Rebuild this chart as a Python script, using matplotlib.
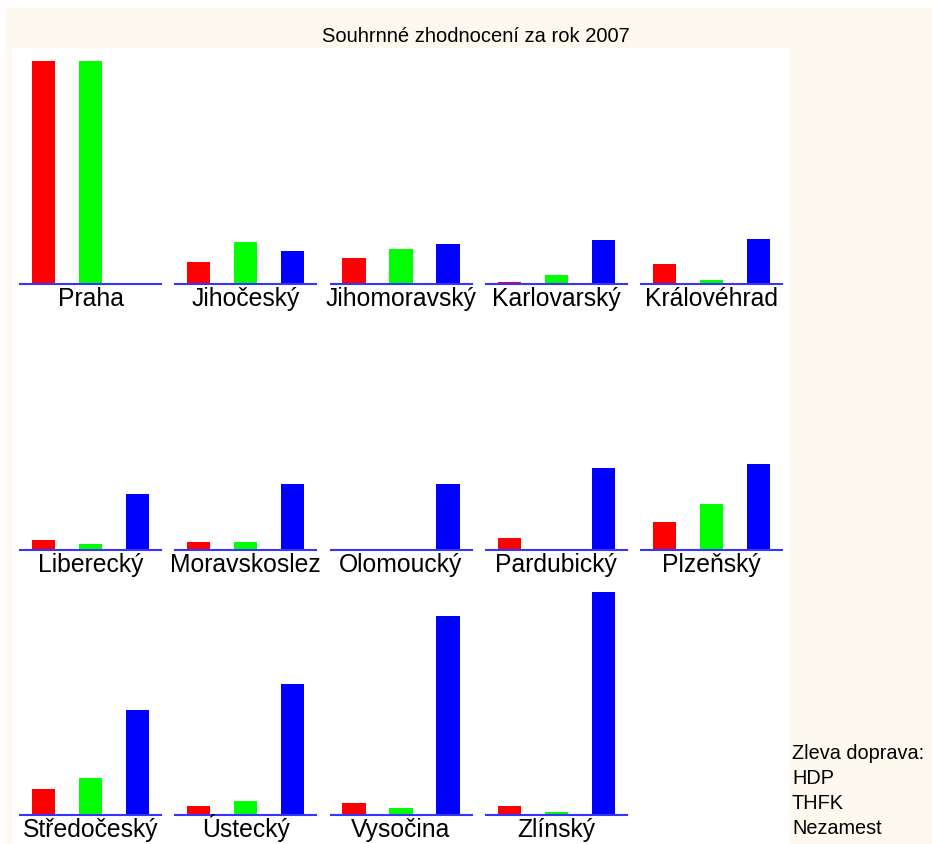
import matplotlib
matplotlib.use("Agg")
import matplotlib.pyplot as plt
from matplotlib.patches import Rectangle

plt.rcParams["font.family"] = ["Liberation Sans", "DejaVu Sans"]

W, H = 932, 844

# Regions, left to right, top to bottom
REGIONS = [
    "Praha", "Jihočeský", "Jihomoravský", "Karlovarský", "Královéhrad",
    "Liberecký", "Moravskoslez", "Olomoucký", "Pardubický", "Plzeňský",
    "Středočeský", "Ústecký", "Vysočina", "Zlínský",
]
# relative scores (max = 100)
HDP = [100, 9.9, 11.7, 0.9, 9.0, 4.5, 3.6, 0, 5.4, 12.6, 11.7, 4.0, 5.4, 4.0]
THFK = [100, 18.8, 15.7, 4.0, 1.8, 2.7, 3.6, 0.5, 0, 20.6, 16.6, 6.3, 3.1, 1.2]
NEZAMEST = [0, 14.8, 17.9, 19.7, 20.2, 25.1, 29.6, 29.6, 36.8, 38.6, 47.1, 58.7, 89.2, 100]

SERIES_COLORS = ["#ff0000", "#00ff00", "#0000ff"]
LEGEND_LINES = ["Zleva doprava:", "HDP", "THFK", "Nezamest"]
TITLE = "Souhrnné zhodnocení za rok 2007"

N_COLS = 5
PANEL_X0, PANEL_DX, PANEL_W = 20, 155.25, 141
ROW_BASELINES = [284, 550, 815]
PANEL_H = 223


def fx(x):
    return x / W


def fy(y):
    return 1 - y / H


fig = plt.figure(figsize=(W / 100, H / 100), dpi=100, facecolor="white")

# cream frame and white plot area (behind the panels)
fig.patches.append(Rectangle((fx(6), 0), fx(W - 6), fy(8), transform=fig.transFigure,
                             facecolor="#fdf9ee", edgecolor="none", zorder=-10))
fig.patches.append(Rectangle((fx(12), 0), fx(790 - 12), fy(48), transform=fig.transFigure,
                             facecolor="white", edgecolor="none", zorder=-9))

for i, name in enumerate(REGIONS):
    row, col = divmod(i, N_COLS)
    left = PANEL_X0 + PANEL_DX * col
    base = ROW_BASELINES[row]
    ax = fig.add_axes([fx(left), fy(base), fx(PANEL_W), PANEL_H / H])
    ax.set_xlim(0, 3)
    ax.set_ylim(0, 100)
    ax.axis("off")
    vals = [HDP[i], THFK[i], NEZAMEST[i]]
    ax.bar([0.5, 1.5, 2.5], vals, width=0.49, color=SERIES_COLORS, zorder=2)
    ax.axhline(0, color="#3535ff", lw=1.5, zorder=3, clip_on=False)
    fig.text(fx(left + PANEL_W / 2), fy(base + 22), name, ha="center", va="baseline",
             fontsize=17.8, color="black")

fig.text(fx(476), fy(42), TITLE, ha="center", va="baseline", fontsize=14.5)

for k, line in enumerate(LEGEND_LINES):
    fig.text(fx(792), fy(759 + 25 * k), line, ha="left", va="baseline", fontsize=14.3)

fig.savefig("out.png", dpi=100, facecolor=fig.get_facecolor())
